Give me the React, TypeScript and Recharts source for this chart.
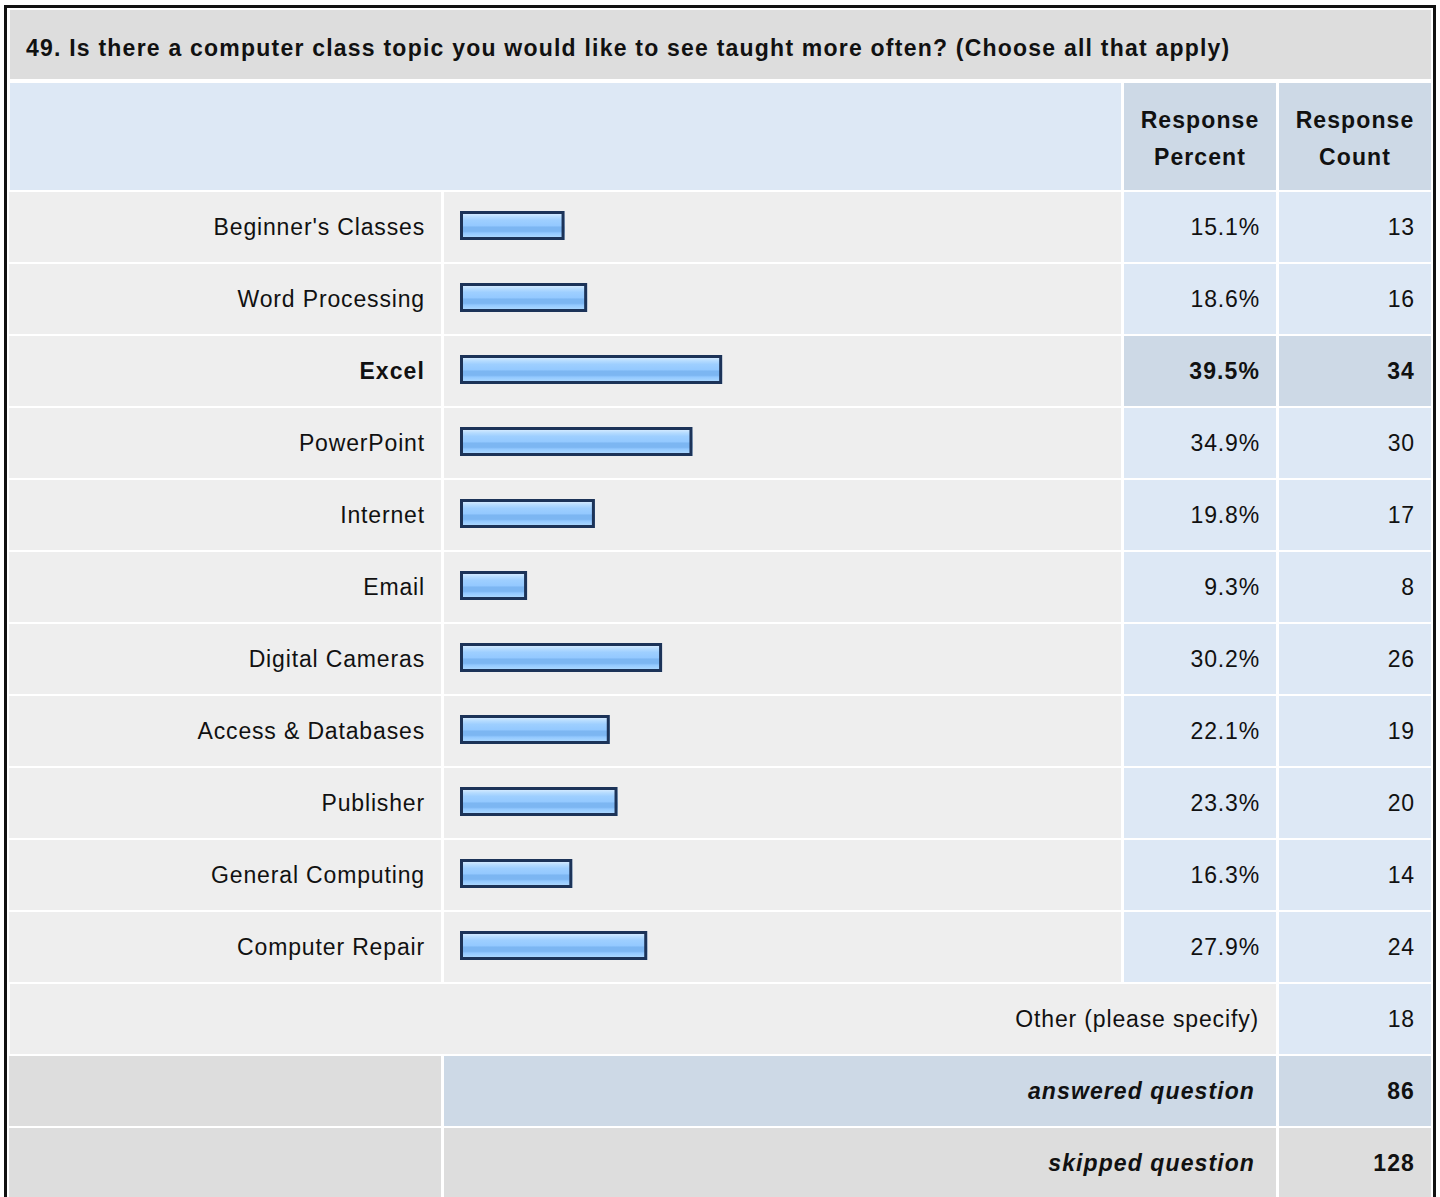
import React from "react";
import { BarChart, Bar, XAxis, YAxis } from "recharts";

const question =
  "49. Is there a computer class topic you would like to see taught more often? (Choose all that apply)";

const topics = [
  "Beginner's Classes",
  "Word Processing",
  "Excel",
  "PowerPoint",
  "Internet",
  "Email",
  "Digital Cameras",
  "Access & Databases",
  "Publisher",
  "General Computing",
  "Computer Repair",
];
const percents = [15.1, 18.6, 39.5, 34.9, 19.8, 9.3, 30.2, 22.1, 23.3, 16.3, 27.9];
const counts = [13, 16, 34, 30, 17, 8, 26, 19, 20, 14, 24];

const otherLabel = "Other (please specify)";
const otherCount = 18;
const answeredCount = 86;
const skippedCount = 128;

const rows = topics.map((topic, i) => ({ topic, percent: percents[i], count: counts[i] }));
const topIndex = percents.indexOf(Math.max(...percents));

// layout (px)
const ROW_TOP = 192;
const PITCH = 72;
const ROW_H = 70;
const COL_LABEL = { x: 9, w: 432 };
const COL_BAR = { x: 444, w: 677 };
const COL_PCT = { x: 1124, w: 152 };
const COL_CNT = { x: 1279, w: 152 };

const GREY = "#dddddd";
const LIGHT = "#eeeeee";
const BLUE = "#dde8f5";
const BLUE_DARK = "#cdd9e6";

const font = "'Liberation Sans', Arial, sans-serif";

type CellProps = {
  x: number;
  y: number;
  w: number;
  h: number;
  bg: string;
  align?: "left" | "right" | "center";
  pad?: number;
  bold?: boolean;
  italic?: boolean;
  children?: React.ReactNode;
};

function Cell({ x, y, w, h, bg, align = "right", pad = 16, bold, italic, children }: CellProps) {
  return (
    <div
      style={{
        position: "absolute",
        left: x,
        top: y,
        width: w,
        height: h,
        background: bg,
        display: "flex",
        alignItems: "center",
        justifyContent: align === "right" ? "flex-end" : align === "left" ? "flex-start" : "center",
        paddingRight: align === "right" ? pad : 0,
        paddingLeft: align === "left" ? pad : 0,
        boxSizing: "border-box",
        fontFamily: font,
        fontSize: 23,
        letterSpacing: bold ? 1.1 : 0.85,
        fontWeight: bold ? "bold" : "normal",
        fontStyle: italic ? "italic" : "normal",
        color: "#111",
        textAlign: align,
        whiteSpace: "nowrap",
      }}
    >
      {children}
    </div>
  );
}

const BarShape = (props: any) => {
  const { x, y, width, height } = props;
  const w = width + 7;
  return (
    <g>
      <rect x={x} y={y} width={w} height={height} fill="url(#barFill)" />
      <rect
        x={x + 1.5}
        y={y + 1.5}
        width={w - 3}
        height={height - 3}
        fill="none"
        stroke="#1c3358"
        strokeWidth={3}
      />
    </g>
  );
};

export default function App() {
  const bottomTop = ROW_TOP + PITCH * topics.length;
  return (
    <div
      style={{
        position: "absolute",
        left: 0,
        top: 0,
        width: 1440,
        height: 1197,
        overflow: "hidden",
        background: "#fff",
      }}
    >
      {/* outer frame */}
      <div
        style={{
          position: "absolute",
          left: 4,
          top: 5,
          width: 1432,
          height: 1300,
          border: "3px solid #111",
          boxSizing: "border-box",
        }}
      />

      <Cell x={10} y={10} w={1421} h={69} bg={GREY} align="left" pad={16} bold>
        <span style={{ position: "relative", top: 4, letterSpacing: 1.22 }}>{question}</span>
      </Cell>

      <Cell x={10} y={83} w={1111} h={107} bg={BLUE} />
      {["Percent", "Count"].map((word, i) => (
        <Cell
          key={word}
          x={i === 0 ? COL_PCT.x : COL_CNT.x}
          y={83}
          w={COL_PCT.w}
          h={107}
          bg={BLUE_DARK}
          align="center"
          bold
        >
          <div style={{ lineHeight: "37px", position: "relative", top: 2 }}>
            Response
            <br />
            {word}
          </div>
        </Cell>
      ))}

      {rows.map((r, i) => {
        const y = ROW_TOP + PITCH * i;
        const hi = i === topIndex;
        return (
          <React.Fragment key={r.topic}>
            <Cell x={COL_LABEL.x} y={y} w={COL_LABEL.w} h={ROW_H} bg={LIGHT} pad={16} bold={hi}>
              {r.topic}
            </Cell>
            <Cell x={COL_BAR.x} y={y} w={COL_BAR.w} h={ROW_H} bg={LIGHT} />
            <Cell x={COL_PCT.x} y={y} w={COL_PCT.w} h={ROW_H} bg={hi ? BLUE_DARK : BLUE} pad={16} bold={hi}>
              {r.percent.toFixed(1)}%
            </Cell>
            <Cell x={COL_CNT.x} y={y} w={COL_CNT.w} h={ROW_H} bg={hi ? BLUE_DARK : BLUE} pad={16} bold={hi}>
              {r.count}
            </Cell>
          </React.Fragment>
        );
      })}

      <Cell x={10} y={bottomTop} w={1266} h={ROW_H} bg={LIGHT} pad={17}>
        {otherLabel}
      </Cell>
      <Cell x={COL_CNT.x} y={bottomTop} w={COL_CNT.w} h={ROW_H} bg={BLUE} pad={16}>
        {otherCount}
      </Cell>

      <Cell x={COL_LABEL.x} y={bottomTop + PITCH} w={COL_LABEL.w} h={ROW_H} bg={GREY} />
      <Cell x={COL_BAR.x} y={bottomTop + PITCH} w={832} h={ROW_H} bg={BLUE_DARK} pad={21} bold italic>
        answered question
      </Cell>
      <Cell x={COL_CNT.x} y={bottomTop + PITCH} w={COL_CNT.w} h={ROW_H} bg={BLUE_DARK} pad={16} bold>
        {answeredCount}
      </Cell>

      <Cell x={COL_LABEL.x} y={bottomTop + PITCH * 2} w={COL_LABEL.w} h={ROW_H} bg={GREY} />
      <Cell x={COL_BAR.x} y={bottomTop + PITCH * 2} w={832} h={ROW_H} bg={GREY} pad={21} bold italic>
        skipped question
      </Cell>
      <Cell x={COL_CNT.x} y={bottomTop + PITCH * 2} w={COL_CNT.w} h={ROW_H} bg={GREY} pad={16} bold>
        {skippedCount}
      </Cell>

      <div style={{ position: "absolute", left: COL_BAR.x, top: ROW_TOP - 3 }}>
        <BarChart
          width={COL_BAR.w}
          height={PITCH * topics.length}
          data={rows}
          layout="vertical"
          margin={{ top: 0, right: 15, left: 16, bottom: 0 }}
        >
          <defs>
            <linearGradient id="barFill" x1="0" y1="0" x2="0" y2="1">
              <stop offset="0.1" stopColor="#d2e9ff" />
              <stop offset="0.2" stopColor="#b6dcff" />
              <stop offset="0.32" stopColor="#9ecfff" />
              <stop offset="0.5" stopColor="#94c9ff" />
              <stop offset="0.56" stopColor="#7cb6f2" />
              <stop offset="0.7" stopColor="#7cb6f2" />
              <stop offset="0.76" stopColor="#92c8ff" />
              <stop offset="0.9" stopColor="#aad7ff" />
            </linearGradient>
          </defs>
          <XAxis type="number" domain={[0, 100]} hide />
          <YAxis type="category" dataKey="topic" hide width={0} />
          <Bar dataKey="percent" barSize={29} shape={BarShape} isAnimationActive={false} />
        </BarChart>
      </div>
    </div>
  );
}
